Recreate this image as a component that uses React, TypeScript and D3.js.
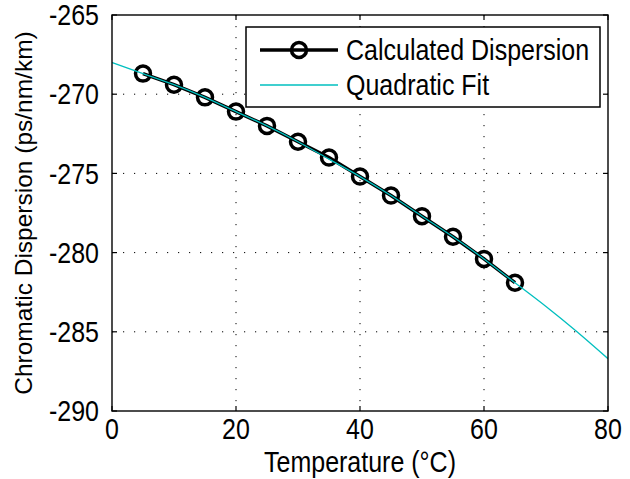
import React from "react";
import * as d3 from "d3";

const temps = [5, 10, 15, 20, 25, 30, 35, 40, 45, 50, 55, 60, 65];
const dispersion = [-268.7, -269.4, -270.2, -271.1, -272.0, -273.0, -274.0, -275.2, -276.4, -277.7, -279.0, -280.4, -281.9];
const fitTemps = [0, 5, 10, 15, 20, 25, 30, 35, 40, 45, 50, 55, 60, 65, 70, 75, 80];
const fitValues = [-268.0, -268.7, -269.4, -270.2, -271.1, -272.0, -273.0, -274.1, -275.2, -276.4, -277.7, -279.0, -280.4, -281.9, -283.4, -285.0, -286.7];
const xTicks = [0, 20, 40, 60, 80];
const yTicks = [-265, -270, -275, -280, -285, -290];
const legendLabels = ["Calculated Dispersion", "Quadratic Fit"];

const W = 630, H = 479;
const L = 112, R = 608, T = 15, B = 411;
const FONT = "'Liberation Sans', Arial, Helvetica, sans-serif";
const CYAN = "#00BFBF";
const FS = 25;
const SY = 1.15;

function HText(props: { x: number; y: number; anchor?: string; children: React.ReactNode }) {
  const { x, y, anchor, children } = props;
  return (
    <text transform={`translate(${x},${y}) scale(1,${SY})`} textAnchor={anchor || "start"} fontSize={FS}>
      {children}
    </text>
  );
}

export default function App() {
  const x = d3.scaleLinear().domain([0, 80]).range([L, R]);
  const y = d3.scaleLinear().domain([-290, -265]).range([B, T]);
  const line = d3.line<[number, number]>().x(d => x(d[0])).y(d => y(d[1]));
  const fitLine = d3.line<[number, number]>().x(d => x(d[0])).y(d => y(d[1])).curve(d3.curveNatural);
  const dataPts: [number, number][] = temps.map((t, i) => [t, dispersion[i]]);
  const fitPts: [number, number][] = fitTemps.map((t, i) => [t, fitValues[i]]);
  const tickLen = 5;
  const mid = 0.358 * FS * SY;
  return (
    <svg width={W} height={H} style={{ position: "absolute", left: 0, top: 0, background: "#fff" }} fontFamily={FONT}>
      <rect x={0} y={0} width={W} height={H} fill="#fff" />
      <defs>
        <clipPath id="plotclip"><rect x={L} y={T} width={R - L} height={B - T} /></clipPath>
      </defs>
      {xTicks.slice(1, -1).map(t => (
        <line key={"gx" + t} x1={x(t)} x2={x(t)} y1={T} y2={B} stroke="#000" strokeWidth={1} strokeDasharray="1.2 9.8" />
      ))}
      {yTicks.slice(1, -1).map(t => (
        <line key={"gy" + t} x1={L} x2={R} y1={y(t)} y2={y(t)} stroke="#000" strokeWidth={1} strokeDasharray="1.2 9.8" />
      ))}
      {xTicks.map(t => (
        <g key={"tx" + t}>
          <line x1={x(t)} x2={x(t)} y1={B} y2={B - tickLen} stroke="#000" strokeWidth={1.2} />
          <line x1={x(t)} x2={x(t)} y1={T} y2={T + tickLen} stroke="#000" strokeWidth={1.2} />
          <HText x={x(t)} y={439} anchor="middle">{t}</HText>
        </g>
      ))}
      {yTicks.map(t => (
        <g key={"ty" + t}>
          <line x1={L} x2={L + tickLen} y1={y(t)} y2={y(t)} stroke="#000" strokeWidth={1.2} />
          <line x1={R} x2={R - tickLen} y1={y(t)} y2={y(t)} stroke="#000" strokeWidth={1.2} />
          <HText x={99} y={y(t) + mid} anchor="end">{t}</HText>
        </g>
      ))}
      <g clipPath="url(#plotclip)">
        <path d={line(dataPts) || ""} fill="none" stroke="#000" strokeWidth={3.5} />
        {dataPts.map((p, i) => (
          <circle key={"c" + i} cx={x(p[0])} cy={y(p[1])} r={7.5} fill="none" stroke="#000" strokeWidth={3.5} />
        ))}
        <path d={fitLine(fitPts) || ""} fill="none" stroke={CYAN} strokeWidth={1.3} />
      </g>
      <rect x={L} y={T} width={R - L} height={B - T} fill="none" stroke="#000" strokeWidth={1.4} />
      <g>
        <rect x={246} y={27} width={354} height={80} fill="#fff" stroke="#000" strokeWidth={1.5} />
        <line x1={260} x2={338} y1={50} y2={50} stroke="#000" strokeWidth={3.5} />
        <circle cx={299} cy={50} r={7.5} fill="none" stroke="#000" strokeWidth={3.5} />
        <HText x={346} y={50 + mid}>{legendLabels[0]}</HText>
        <line x1={260} x2={338} y1={85} y2={85} stroke={CYAN} strokeWidth={1.3} />
        <HText x={346} y={85 + mid}>{legendLabels[1]}</HText>
      </g>
      <HText x={(L + R) / 2} y={472} anchor="middle">Temperature (°C)</HText>
      <text transform={`translate(32,${(T + B) / 2}) rotate(-90)`} textAnchor="middle" fontSize={24.5}>Chromatic Dispersion (ps/nm/km)</text>
    </svg>
  );
}
